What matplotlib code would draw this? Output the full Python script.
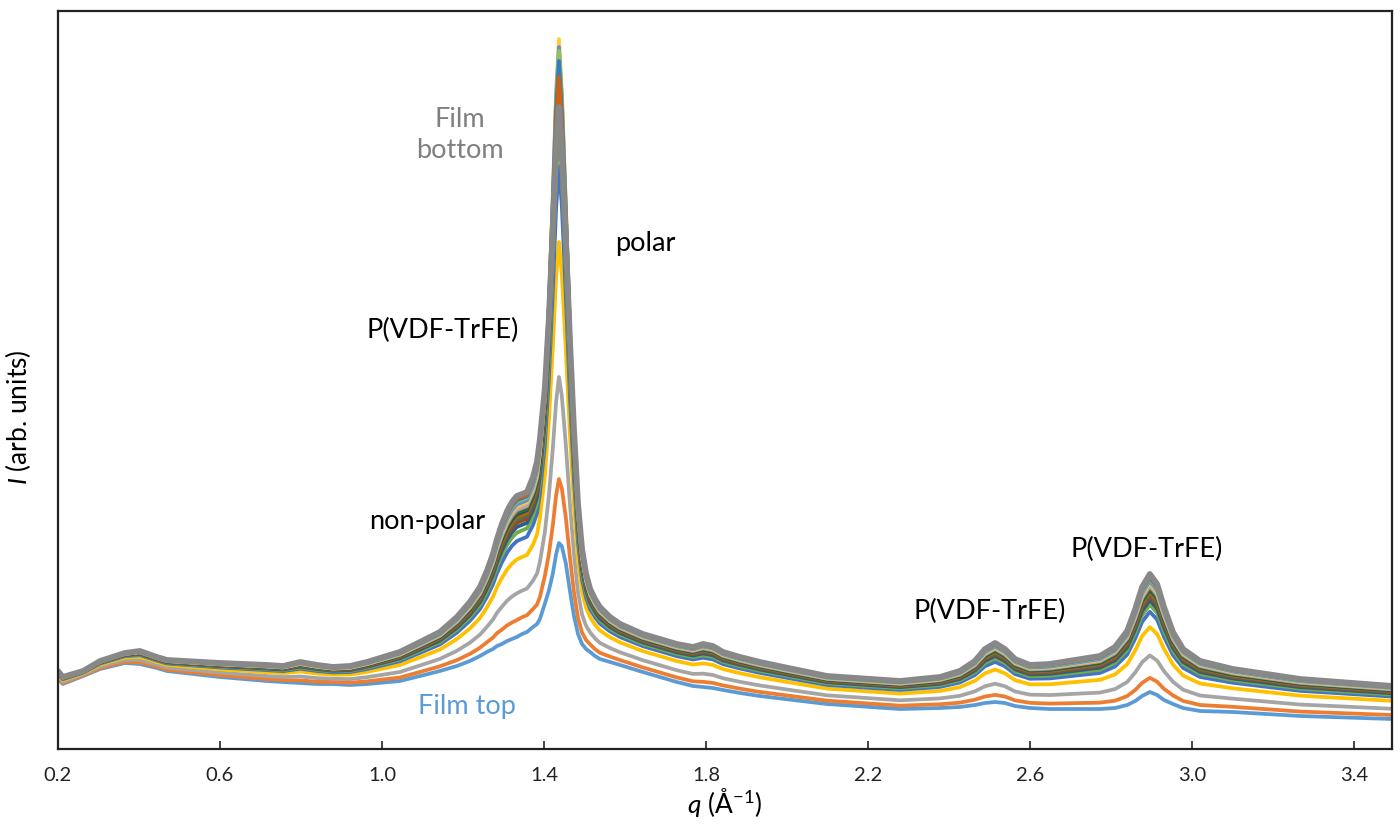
import numpy as np
import matplotlib
matplotlib.use("Agg")
import matplotlib.pyplot as plt

plt.rcParams['font.family'] = ['Lato', 'DejaVu Sans']
plt.rcParams['mathtext.fontset'] = 'custom'
plt.rcParams['mathtext.rm'] = 'Lato'
plt.rcParams['mathtext.it'] = 'Lato:italic'

# q grid (1/Angstrom)
q = [0.200, 0.212, 0.262, 0.304, 0.365, 0.402, 0.444, 0.469, 0.600, 0.716,
     0.756, 0.798, 0.840, 0.879, 0.921, 0.963, 1.044, 1.094, 1.143, 1.185,
     1.217, 1.242, 1.259, 1.274, 1.284, 1.296, 1.309, 1.321, 1.333, 1.346,
     1.358, 1.373, 1.383, 1.390, 1.402, 1.412, 1.422, 1.430, 1.437, 1.444,
     1.454, 1.464, 1.474, 1.484, 1.494, 1.504, 1.514, 1.526, 1.538, 1.563,
     1.588, 1.644, 1.728, 1.768, 1.793, 1.817, 1.842, 1.884, 1.933, 2.015,
     2.099, 2.279, 2.378, 2.427, 2.464, 2.489, 2.514, 2.538, 2.563, 2.600,
     2.649, 2.773, 2.810, 2.840, 2.860, 2.877, 2.896, 2.914, 2.931, 2.953,
     2.978, 3.020, 3.101, 3.267, 3.494]

# lowest trace (film top)
i_film_top = [70, 65, 73, 80, 86, 85, 81, 78, 72, 68,
              67, 66, 65, 65, 64, 65, 68, 73, 78, 83,
              88, 93, 97, 100, 103, 105, 108, 110, 112, 115,
              117, 122, 125, 130, 145, 158, 175, 194, 205, 202,
              185, 158, 133, 115, 105, 100, 97, 93, 90, 87,
              84, 77, 67, 63, 62, 61, 59, 56, 53, 49,
              45, 40, 41, 42, 44, 46, 47, 46, 43, 41,
              40, 40, 41, 44, 48, 53, 57, 54, 49, 45,
              41, 38, 37, 33, 30]

# highest trace (film bottom)
i_film_bottom = [78, 72, 78, 88, 96, 98, 92, 89, 86, 84,
                 83, 87, 84, 82, 83, 87, 97, 107, 117, 132,
                 147, 162, 178, 195, 210, 225, 238, 247, 253, 255,
                 257, 272, 288, 310, 360, 430, 520, 600, 642, 600,
                 510, 410, 320, 245, 200, 175, 160, 150, 142, 132,
                 125, 115, 105, 102, 105, 103, 97, 92, 87, 80,
                 73, 68, 72, 78, 88, 100, 106, 100, 90, 84,
                 85, 93, 102, 118, 140, 162, 175, 165, 142, 117,
                 100, 88, 80, 70, 63]

# shape of the polar peak tip (normalised)
tip_shape = ([0] * 33 + [0.04, 0.15, 0.33, 0.62, 0.88, 1.0, 0.88, 0.58, 0.30,
                         0.12, 0.04] + [0] * 41)

# depth position of each scan between film top (0) and film bottom (1)
depth_weight = [0.00, 0.12, 0.31, 0.55, 0.68, 0.74, 0.78, 0.81, 0.83, 0.85,
                0.87, 0.88, 0.90, 0.91, 0.92, 0.93, 0.94, 0.96, 0.97, 0.98, 1.00]
# main peak maxima of each scan
peak_max = [206, 270, 372, 507, 583, 620, 640, 655, 630, 650,
            660, 680, 690, 665, 675, 710, 702, 698, 688, 672, 642]

colors = ['#5B9BD5', '#ED7D31', '#A5A5A5', '#FFC000', '#4472C4', '#70AD47',
          '#255E91', '#9E480E', '#636363', '#997300', '#264478', '#43682B',
          '#7CAFDD', '#F1975A', '#B7B7B7', '#FFCD33', '#698ED0', '#8CC168',
          '#327DC2', '#D26012', '#888888']

q = np.array(q)
lo = np.array(i_film_top, dtype=float)
hi = np.array(i_film_bottom, dtype=float)
tip = np.array(tip_shape, dtype=float)
ipk = int(np.argmax(tip))

fig = plt.figure(figsize=(14, 8.28), dpi=100)
ax = fig.add_axes([58 / 1400, 78 / 828, 1334 / 1400, 738 / 828])

for k, (w, pk) in enumerate(zip(depth_weight, peak_max)):
    y = lo + w * (hi - lo)
    y = y + (pk - y[ipk]) * tip
    lw = 4.2 if k == len(depth_weight) - 1 else 2.7
    ax.plot(q, y, color=colors[k], lw=lw, solid_capstyle='round',
            solid_joinstyle='round')

ticks = np.arange(0.2, 3.41, 0.4)
ax.set_xlim(0.2, 3.494)
ax.set_ylim(0, 738)
ax.set_xticks(ticks)
ax.set_xticklabels([f"{v:.1f}" for v in ticks])
ax.set_yticks([])
ax.tick_params(axis='x', direction='in', length=6, width=1.2, labelsize=14.5,
               pad=12, colors='#222222')
for s in ax.spines.values():
    s.set_linewidth(1.6)
    s.set_color('#222222')

ax.set_xlabel(r'$q$ (Å$^{\mathregular{-1}}$)', fontsize=19, labelpad=2)
ax.set_ylabel(r'$I$ (arb. units)', fontsize=19, va='center')
ax.yaxis.set_label_coords(-0.030, 0.451)


def px(x, y):
    return 0.2 + (x - 58) / 405, 750 - y


fs = 19.5
ax.text(*px(460, 135), 'Film\nbottom', color='#7F7F7F', fontsize=fs,
        ha='center', va='center', linespacing=1.3)
ax.text(*px(645, 243), 'polar', fontsize=fs, ha='center', va='center')
ax.text(*px(443, 330), 'P(VDF-TrFE)', fontsize=fs, ha='center', va='center')
ax.text(*px(427, 521), 'non-polar', fontsize=fs, ha='center', va='center')
ax.text(*px(467, 707), 'Film top', color='#5B9BD5', fontsize=fs,
        ha='center', va='center')
ax.text(*px(990, 611), 'P(VDF-TrFE)', fontsize=fs, ha='center', va='center')
ax.text(*px(1147, 549), 'P(VDF-TrFE)', fontsize=fs, ha='center', va='center')

fig.savefig('out.png', dpi=100)
